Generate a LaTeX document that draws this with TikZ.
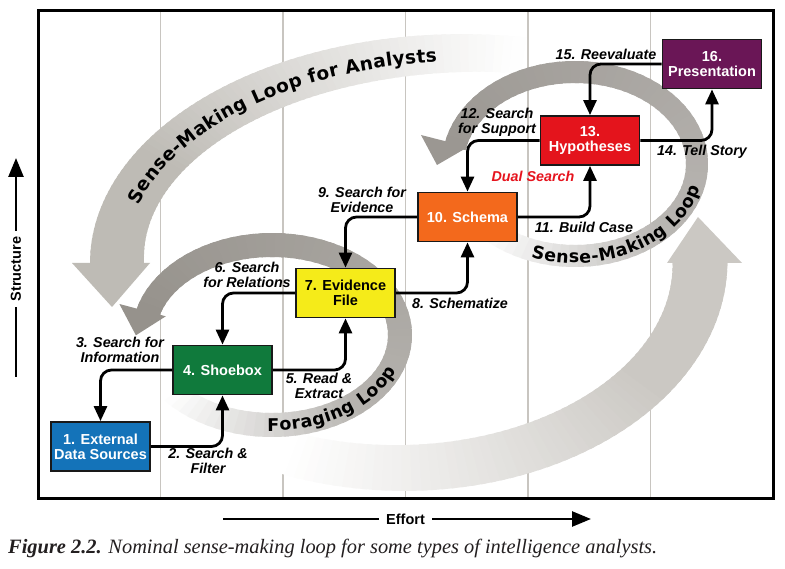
\documentclass[tikz,border=0pt]{standalone}
\usepackage{fontspec}
\usepackage{graphicx}
\setmainfont{Liberation Sans}
\newfontfamily\capfont{Liberation Serif}
\newfontfamily\bandfont{DejaVu Sans}
\usetikzlibrary{arrows.meta,decorations.text}

\definecolor{bblue}{RGB}{20,115,185}
\definecolor{bgreen}{RGB}{16,122,60}
\definecolor{byellow}{RGB}{245,235,25}
\definecolor{borange}{RGB}{243,105,28}
\definecolor{bred}{RGB}{228,20,28}
\definecolor{bpurple}{RGB}{106,22,86}
\definecolor{dualred}{RGB}{230,20,30}
\definecolor{gridc}{RGB}{200,197,192}
\definecolor{anG}{RGB}{190,187,181}
\definecolor{forG}{RGB}{150,146,140}
\definecolor{smG}{RGB}{155,151,146}
\definecolor{bigG}{RGB}{203,200,195}
\definecolor{capcol}{RGB}{35,31,32}

\newcommand{\boxfont}{\fontsize{14.5}{15}\selectfont\bfseries}
\newcommand{\lblfont}{\fontsize{14.3}{15}\selectfont\bfseries\itshape}
\newcommand{\axfont}{\fontsize{14.5}{15}\selectfont\bfseries}

% #1 center, #2 rx, #3 ry, #4 half width at start, #5 half width at end,
% #6 start angle, #7 end angle, #8 colour, #9 percentage expression of \tq
\newcommand{\bandfill}[9]{%
  \begin{scope}[shift={#1}]
  \foreach \i in {0,...,71}{%
    \pgfmathsetmacro{\tq}{(\i+0.5)/72}%
    \pgfmathsetmacro{\bA}{#6+(#7-#6)*(\i/72)}%
    \pgfmathsetmacro{\bB}{#6+(#7-#6)*((\i+1.5)/72)}%
    \pgfmathsetmacro{\hw}{#4+(#5-#4)*\tq}%
    \pgfmathsetmacro{\rxo}{#2+\hw}\pgfmathsetmacro{\ryo}{#3+\hw}%
    \pgfmathsetmacro{\rxi}{#2-\hw}\pgfmathsetmacro{\ryi}{#3-\hw}%
    \pgfmathsetmacro{\pc}{max(0,min(100,#9))}%
    \fill[fill=#8!\pc!white] ({\rxo*cos(\bA)},{\ryo*sin(\bA)})
      arc[start angle=\bA,end angle=\bB,x radius=\rxo,y radius=\ryo]
      -- ({\rxi*cos(\bB)},{\ryi*sin(\bB)})
      arc[start angle=\bB,end angle=\bA,x radius=\rxi,y radius=\ryi] -- cycle;
  }
  \end{scope}}

\tikzset{
  box/.style={draw=black!90, line width=1.8pt, minimum width=99pt, minimum height=49pt,
    inner sep=0pt, align=center, font=\boxfont, text=white},
  lbl/.style={font=\lblfont, align=center, inner sep=0pt},
  conn/.style={line width=2.8pt, rounded corners=11pt, -{Triangle[length=15pt,width=13pt]}},
  axisline/.style={line width=2.6pt},
  axishead/.style={line width=2.6pt, -{Triangle[length=19pt,width=15pt]}},
  gridline/.style={draw=gridc, line width=1.3pt},
}

\begin{document}
\begin{tikzpicture}[x=1pt,y=1pt]
\useasboundingbox (0,0) rectangle (785,-569);
\fill[white] (0,0) rectangle (785,-569);

% vertical grid
\foreach \gx in {160.5,283,405.5,528,650.5}{\draw[gridline] (\gx,-10) -- (\gx,-498);}

% big bottom arrow
\bandfill{(400,-263)}{300}{205}{21}{27.5}{-127}{1}{bigG}{100*(\tq-0.12)/0.6}
\fill[bigG] (667,-263) -- (742,-263) -- (698,-217) -- cycle;

% outer analysts arrow
\bandfill{(470,-260)}{353}{207}{27}{18}{181}{82}{anG}{100*(1-\tq)/0.7}
\fill[anG] (72,-263) -- (150,-263) -- (112,-307) -- cycle;

% foraging loop
\bandfill{(272,-335)}{128}{90}{12}{12}{-140}{165}{forG}{233.33*\tq-190.48*max(0,\tq-0.3)}
\fill[forG] (119.4,-304) -- (165.8,-316.3) -- (135.9,-335.3) -- cycle;

% small sense-making loop
\bandfill{(575,-164)}{122}{92}{11}{11}{-135}{168}{smG}{233.33*\tq-190.48*max(0,\tq-0.3)}
\fill[smG] (421,-135) -- (468,-147) -- (437,-165) -- cycle;

% texts along the bands
\begin{scope}[shift={(470,-260)}]
\path[decorate, decoration={text along path, text align=fit to path,
  text={|\bandfont\fontsize{18.5}{18.5}\selectfont\bfseries|Sense-Making Loop for Analysts}}]
  ({345*cos(164)},{199*sin(164)}) arc[start angle=164, end angle=95.5, x radius=345, y radius=199];
\end{scope}
\begin{scope}[shift={(272,-335)}]
\path[decorate, decoration={text along path, text align=fit to path,
  text={|\bandfont\fontsize{17.5}{17.5}\selectfont\bfseries|Foraging Loop}}]
  ({134*cos(-92)},{96*sin(-92)}) arc[start angle=-92, end angle=-22, x radius=134, y radius=96];
\end{scope}
\begin{scope}[shift={(575,-164)}]
\path[decorate, decoration={text along path, text align=fit to path,
  text={|\bandfont\fontsize{17.5}{17.5}\selectfont\bfseries|Sense-Making Loop}}]
  ({129*cos(-110)},{99*sin(-110)}) arc[start angle=-110, end angle=-14, x radius=129, y radius=99];
\end{scope}

% boxes
\node[box, fill=bblue] (b1) at (100.5,-446.5) {1. External\\Data Sources};
\node[box, fill=bgreen] (b4) at (222.5,-370) {4. Shoebox};
\node[box, fill=byellow, text=black] (b7) at (345.5,-293) {7. Evidence\\File};
\node[box, fill=borange] (b10) at (467.5,-217) {10. Schema};
\node[box, fill=bred] (b13) at (590,-140.5) {13.\\Hypotheses};
\node[box, fill=bpurple] (b16) at (712,-64) {16.\\Presentation};

% connectors
\draw[conn] (b1.east) -| (b4.south);
\draw[conn] (b4.west) -| (b1.north);
\draw[conn] (b4.east) -| (b7.south);
\draw[conn] (b7.west) -| (b4.north);
\draw[conn] (b7.east) -| (b10.south);
\draw[conn] (b10.west) -| (b7.north);
\draw[conn] (b10.east) -| (b13.south);
\draw[conn] (b13.west) -| (b10.north);
\draw[conn] (b13.east) -| (b16.south);
\draw[conn] (b16.west) -| (b13.north);

% labels
\node[lbl] (l2) at (208,-461) {2. Search \&\\Filter};
\node[lbl] (l3) at (120,-350) {3. Search for\\Information};
\node[lbl] (l5) at (319,-386) {5. Read \&\\Extract};
\node[lbl] (l6) at (247,-275) {6. Search\\for Relations};
\node[lbl] (l8) at (460,-303) {8. Schematize};
\node[lbl] (l9) at (362,-200) {9. Search for\\Evidence};
\node[lbl] (l11) at (584,-227) {11. Build Case};
\node[lbl] (l12) at (497,-122) {12. Search\\for Support};
\node[lbl] (l14) at (702,-152) {14. Tell Story};
\node[lbl] (l15) at (606,-54) {15. Reevaluate};
\node[lbl, text=dualred] (dual) at (533,-176) {Dual Search};

% frame
\draw[line width=3pt] (38.5,-10.5) rectangle (773,-498.5);

% axes
\node[font=\axfont, rotate=90, inner sep=6pt] (ylab) at (16,-269) {Structure};
\coordinate (ytip) at (16,-158);
\coordinate (ybot) at (16,-377);
\draw[axishead] (ylab.east) -- (ytip);
\draw[axisline] (ylab.west) -- (ybot);
\node[font=\axfont, inner sep=7pt] (xlab) at (405.5,-519) {Effort};
\coordinate (xleft) at (223,-519);
\coordinate (xtip) at (591,-519);
\draw[axisline] (xlab.west) -- (xleft);
\draw[axishead] (xlab.east) -- (xtip);

% caption
\node[anchor=base west, inner sep=0pt, text=capcol] (cap) at (8,-553)
  {\resizebox{649pt}{!}{\capfont\fontsize{20}{22}\selectfont\itshape\textbf{Figure 2.2.} Nominal sense-making loop for some types of intelligence analysts.}};
\end{tikzpicture}
\end{document}
